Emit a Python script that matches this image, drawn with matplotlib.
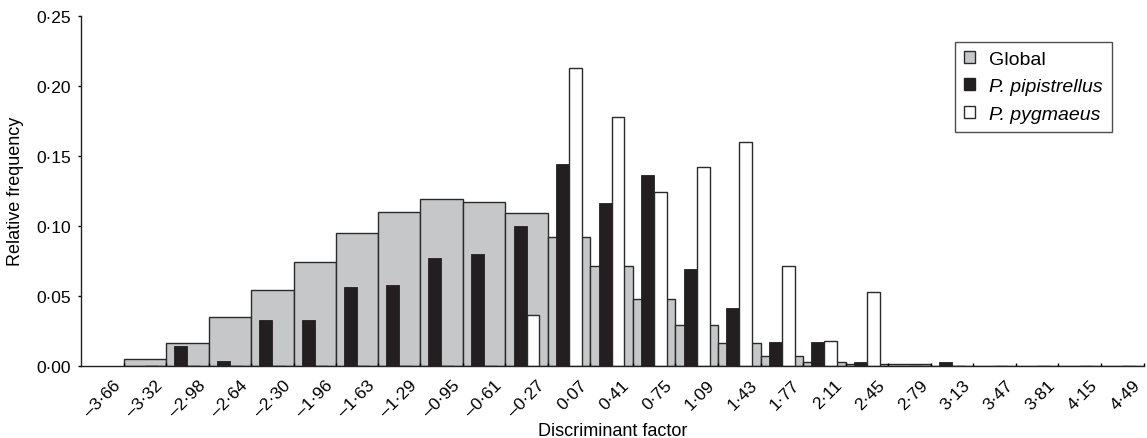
"""Relative frequency histogram of the discriminant factor"""

import numpy as np
import matplotlib.pyplot as plt
import matplotlib.transforms as mtransforms
from matplotlib.patches import Patch

plt.rcParams["font.family"] = ["Liberation Sans", "DejaVu Sans"]

# bin edges (tick labels)
bin_edges = [-3.66, -3.32, -2.98, -2.64, -2.30, -1.96, -1.63, -1.29, -0.95,
             -0.61, -0.27, 0.07, 0.41, 0.75, 1.09, 1.43, 1.77, 2.11, 2.45,
             2.79, 3.13, 3.47, 3.81, 4.15, 4.49]

# relative frequency per bin
global_freq = [0.005, 0.016, 0.035, 0.054, 0.074, 0.095, 0.110, 0.119,
               0.117, 0.109, 0.092, 0.071, 0.048, 0.029, 0.016, 0.007,
               0.003, 0.001, 0.001, 0.0, 0.0, 0.0, 0.0, 0.0]
pipistrellus = [0.0, 0.014, 0.0035, 0.033, 0.033, 0.056, 0.058, 0.077,
                0.080, 0.100, 0.144, 0.116, 0.136, 0.069, 0.041, 0.017,
                0.017, 0.003, 0.0, 0.003, 0.0, 0.0, 0.0, 0.0]
pygmaeus = [0.0, 0.0, 0.0, 0.0, 0.0, 0.0, 0.0, 0.0, 0.0, 0.036, 0.213,
            0.178, 0.124, 0.142, 0.160, 0.071, 0.018, 0.053, 0.0, 0.0, 0.0,
            0.0, 0.0, 0.0]

edges = np.array(bin_edges)
left = edges[:-1]
width = np.diff(edges)

grey = "#c6c7c9"
black = "#231f20"
edge = "#2a2a2a"
fs_tick = 12.5
fs_label = 13

fig = plt.figure(figsize=(11.47, 4.39), dpi=100)
ax = fig.add_axes([0.0706, 0.1647, 0.9264, 0.7966])

# 全体（幅いっぱい）
ax.bar(left, global_freq, width=width, align="edge", color=grey,
       edgecolor=edge, linewidth=1.0)
# 種ごと（細い棒）
ax.bar(left + 0.195 * width, pipistrellus, width=0.305 * width, align="edge",
       color=black, edgecolor=black, linewidth=0.6)
ax.bar(left + 0.50 * width, pygmaeus, width=0.30 * width, align="edge",
       color="white", edgecolor=edge, linewidth=1.0)

ax.set_xlim(edges[0] - width[0], edges[-1])
ax.set_ylim(0, 0.25)

ax.spines["top"].set_visible(False)
ax.spines["right"].set_visible(False)
for s in ("left", "bottom"):
    ax.spines[s].set_linewidth(1.0)
    ax.spines[s].set_color("#222222")

ax.tick_params(axis="y", direction="out", length=2.5, width=1.0, pad=4.5)
ax.tick_params(axis="x", direction="in", length=2.5, width=1.0, pad=5)

yt = np.arange(0, 0.2501, 0.05)
ax.set_yticks(yt)
ax.set_yticklabels([f"{v:.2f}".replace(".", "·") for v in yt],
                   fontsize=fs_tick)
ax.set_xticks(edges)
ax.set_xticklabels([f"{v:.2f}".replace(".", "·").replace("-", "–")
                    for v in edges], fontsize=fs_tick, rotation=45,
                   ha="right", rotation_mode="anchor")

ax.set_xlabel("Discriminant factor", fontsize=fs_label, va="center")
ax.xaxis.set_label_coords(0.5, -0.184)
ax.set_ylabel("Relative frequency", fontsize=fs_label, va="center")
ax.yaxis.set_label_coords(-0.0612, 0.5)

handles = [
    Patch(facecolor=grey, edgecolor=edge, linewidth=1.0, label="Global"),
    Patch(facecolor=black, edgecolor=black, linewidth=1.0,
          label="P. pipistrellus"),
    Patch(facecolor="white", edgecolor=edge, linewidth=1.0,
          label="P. pygmaeus"),
]
leg = ax.legend(handles=handles, loc="upper right",
                bbox_to_anchor=(0.970, 0.926), fontsize=14, frameon=True,
                fancybox=False, edgecolor="#222222", handlelength=0.57,
                handleheight=0.57, handletextpad=0.72, labelspacing=0.55,
                borderpad=0.45, borderaxespad=0)
leg.get_frame().set_linewidth(1.0)
for t in leg.get_texts()[1:]:
    t.set_fontstyle("italic")

# ラベルを少し左下へずらす（tick_params の後で）
shift = mtransforms.ScaledTranslation(-8 / 72, -3 / 72, fig.dpi_scale_trans)
for lab in ax.get_xticklabels():
    lab.set_transform(lab.get_transform() + shift)

fig.savefig("out.png", dpi=100)
